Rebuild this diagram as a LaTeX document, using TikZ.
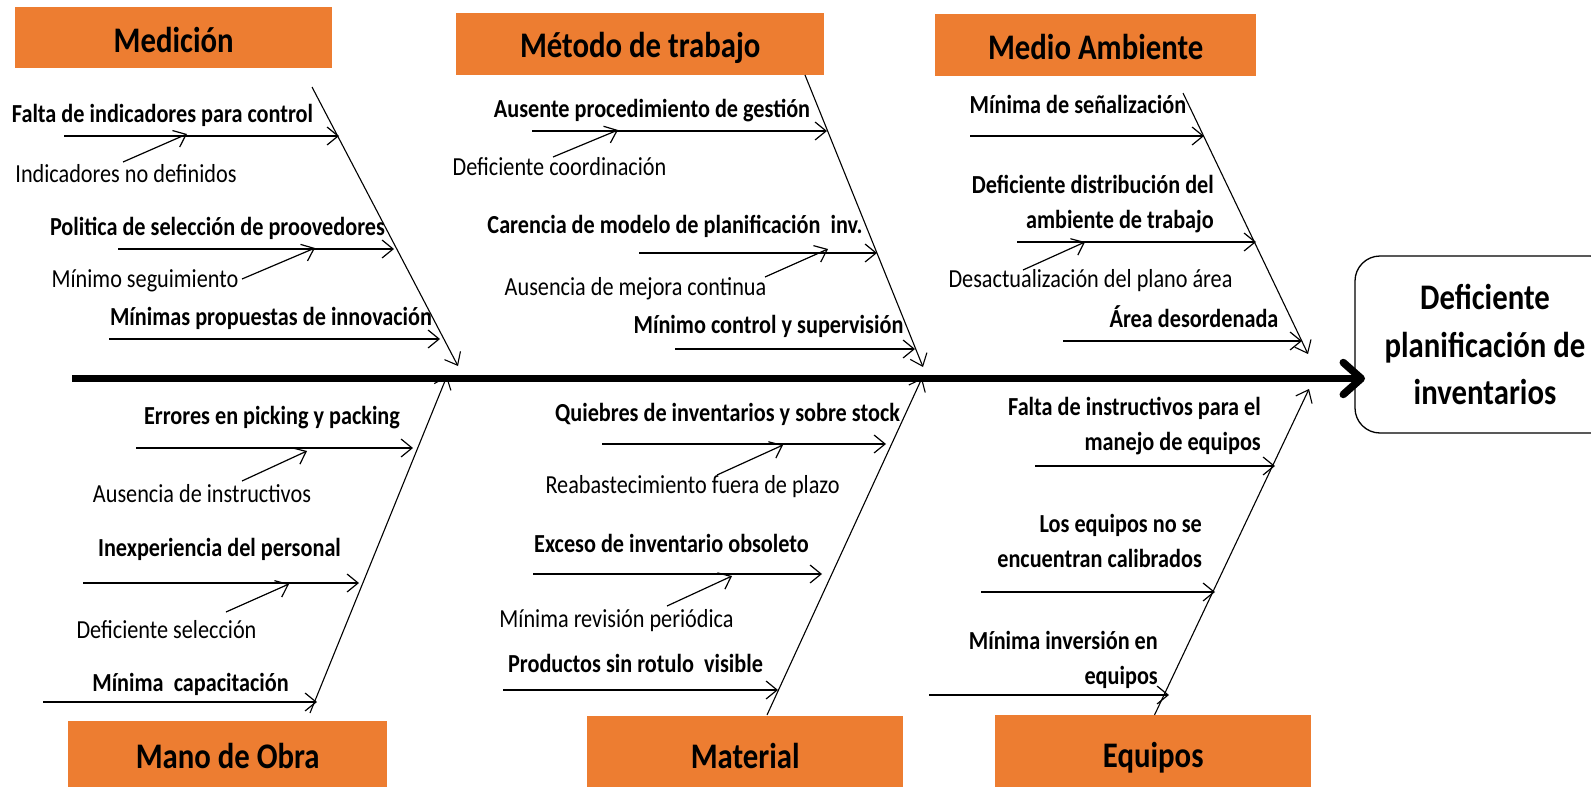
\documentclass[tikz,border=0pt]{standalone}
\usepackage{fontspec}
\setmainfont{Carlito}[FakeStretch=0.855]
\usetikzlibrary{arrows.meta,calc}
\definecolor{catorange}{HTML}{ED7D31}
\begin{document}
\begin{tikzpicture}[x=1pt,y=-1pt,
  catbox/.style={fill=catorange, draw=none, inner sep=0pt, anchor=north west},
  cattext/.style={font=\fontsize{36}{40}\selectfont\bfseries, anchor=base, inner sep=0pt},
  cause/.style={font=\fontsize{26}{34.5}\selectfont\bfseries, anchor=base, inner sep=0pt},
  causer/.style={font=\fontsize{26}{34.5}\selectfont\bfseries, anchor=base east, inner sep=0pt, align=right},
  subc/.style={font=\fontsize{26}{34.5}\selectfont, anchor=base, inner sep=0pt},
  bone/.style={line width=1.1pt, -{Straight Barb[length=11pt,width=18pt]}},
  rib/.style={line width=1.2pt, -{Straight Barb[length=11pt,width=18pt]}},
  spine/.style={line width=7.5pt, -{Straight Barb[length=18pt,width=32pt,round]}},
  resbox/.style={draw, line width=1.3pt, rounded corners=25pt, align=center,
    minimum width=260pt, minimum height=177pt, inner sep=0pt,
    font=\fontsize{36}{47.5}\selectfont\bfseries},
]
\useasboundingbox (0,0) rectangle (1591,787);

% result
\node[resbox] (res) at (1485,344.5) {Deficiente\\planificación de\\inventarios};

% spine
\coordinate (sp0) at (72,378.5);
\coordinate (sp1) at (1365,378.5);
\draw[spine] (sp0) -- (sp1);

% category boxes
\node[catbox, minimum width=317pt, minimum height=61pt] (bMed) at (15,7) {};
\node[cattext] (tMed) at ($(bMed.north)+(0,45)$) {Medición};
\node[catbox, minimum width=368pt, minimum height=62pt] (bMet) at (456,13) {};
\node[cattext] (tMet) at ($(bMet.north)+(0,44)$) {Método de trabajo};
\node[catbox, minimum width=321pt, minimum height=62pt] (bAmb) at (935,14) {};
\node[cattext] (tAmb) at ($(bAmb.north)+(0,45)$) {Medio Ambiente};
\node[catbox, minimum width=319pt, minimum height=66pt] (bMan) at (68,721) {};
\node[cattext] (tMan) at ($(bMan.north)+(0,47)$) {Mano de Obra};
\node[catbox, minimum width=316pt, minimum height=71pt] (bMat) at (587,716) {};
\node[cattext] (tMat) at ($(bMat.north)+(0,52)$) {Material};
\node[catbox, minimum width=316pt, minimum height=72pt] (bEqu) at (995,715) {};
\node[cattext] (tEqu) at ($(bEqu.north)+(0,52)$) {Equipos};

% bones
\coordinate (d1a) at (312,87);    \coordinate (d1b) at (458,366);
\coordinate (d2a) at (805,75);    \coordinate (d2b) at (923,367);
\coordinate (d3a) at (1183,93);   \coordinate (d3b) at (1308,354);
\coordinate (d4a) at (310,713);   \coordinate (d4b) at (447,376);
\coordinate (d5a) at (767,715);   \coordinate (d5b) at (922,378);
\coordinate (d6a) at (1154.5,715);\coordinate (d6b) at (1309,389);
\foreach \i in {1,...,6} { \draw[bone] (d\i a) -- (d\i b); }

% ---- Medicion
\node[cause] (c1) at (162.5,122) {Falta de indicadores para control};
\node[subc]  (s1) at (126,182) {Indicadores no definidos};
\node[cause] (c2) at (217.5,235) {Politica de selección de proovedores};
\node[subc]  (s2) at (145,287) {Mínimo seguimiento};
\node[cause] (c3) at (271,325) {Mínimas propuestas de innovación};
\coordinate (r1a) at (64,136);  \coordinate (r1b) at (339,136);
\coordinate (r2a) at (118,249); \coordinate (r2b) at (394,249);
\coordinate (r3a) at (109,339); \coordinate (r3b) at (440,339);
\coordinate (u1a) at (123,162); \coordinate (u1b) at (187,134);
\coordinate (u2a) at (242,279); \coordinate (u2b) at (315,248);

% ---- Metodo
\node[cause] (c4) at (652,117) {Ausente procedimiento de gestión};
\node[subc]  (s3) at (559.5,175) {Deficiente coordinación};
\node[cause] (c5) at (675,233) {Carencia de modelo de planificación\ \ inv.};
\node[subc]  (s4) at (635.5,295) {Ausencia de mejora continua};
\node[cause] (c6) at (768.5,333) {Mínimo control y supervisión};
\coordinate (r4a) at (532,131); \coordinate (r4b) at (827,131);
\coordinate (r5a) at (639,253); \coordinate (r5b) at (877,253);
\coordinate (r6a) at (675,349); \coordinate (r6b) at (915,349);
\coordinate (u3a) at (553,157); \coordinate (u3b) at (618,130);
\coordinate (u4a) at (765,277); \coordinate (u4b) at (828,249);

% ---- Medio Ambiente
\node[cause] (c7) at (1078,113) {Mínima de señalización};
\node[causer] (c8) at (1214,228) {Deficiente distribución del\\ambiente de trabajo};
\node[subc]  (s5) at (1090.5,287) {Desactualización del plano área};
\node[cause] (c9) at (1194,327) {Área desordenada};
\coordinate (r7a) at (970,136);  \coordinate (r7b) at (1204,136);
\coordinate (r8a) at (1017,242); \coordinate (r8b) at (1256,242);
\coordinate (r9a) at (1063,341); \coordinate (r9b) at (1302,341);
\coordinate (u5a) at (1023,270); \coordinate (u5b) at (1085,242);

% ---- Mano de Obra
\node[cause] (c10) at (272,424) {Errores en picking y packing};
\node[subc]  (s6) at (202,502) {Ausencia de instructivos};
\node[cause] (c11) at (219.5,556) {Inexperiencia del personal};
\node[subc]  (s7) at (166.5,638) {Deficiente selección};
\node[cause] (c12) at (190.5,691) {Mínima\ \ capacitación};
\coordinate (r10a) at (136,448); \coordinate (r10b) at (413,448);
\coordinate (r11a) at (83,583);  \coordinate (r11b) at (359,583);
\coordinate (r12a) at (43,702);  \coordinate (r12b) at (317,702);
\coordinate (u6a) at (242,481);  \coordinate (u6b) at (307,451);
\coordinate (u7a) at (226,612);  \coordinate (u7b) at (289,584);

% ---- Material
\node[cause] (c13) at (727.5,421) {Quiebres de inventarios y sobre stock};
\node[subc]  (s8) at (692.5,493) {Reabastecimiento fuera de plazo};
\node[cause] (c14) at (671.5,552) {Exceso de inventario obsoleto};
\node[subc]  (s9) at (616.5,627) {Mínima revisión periódica};
\node[cause] (c15) at (635.5,672) {Productos sin rotulo\ \ visible};
\coordinate (r13a) at (602,444); \coordinate (r13b) at (886,444);
\coordinate (r14a) at (533,574); \coordinate (r14b) at (822,574);
\coordinate (r15a) at (503,690); \coordinate (r15b) at (778,690);
\coordinate (u8a) at (717,475);  \coordinate (u8b) at (783,445);
\coordinate (u9a) at (667,606);  \coordinate (u9b) at (732,576);

% ---- Equipos
\node[causer] (c16) at (1261,450) {Falta de instructivos para el\\manejo de equipos};
\node[causer] (c17) at (1202,567) {Los equipos no se\\encuentran calibrados};
\node[causer] (c18) at (1158,684) {Mínima inversión en\\equipos};
\coordinate (r16a) at (1035,466); \coordinate (r16b) at (1275,466);
\coordinate (r17a) at (981,592);  \coordinate (r17b) at (1215,592);
\coordinate (r18a) at (929,695);  \coordinate (r18b) at (1169,695);

\foreach \i in {1,...,18} { \draw[rib] (r\i a) -- (r\i b); }
\foreach \i in {1,...,9} { \draw[rib] (u\i a) -- (u\i b); }
\end{tikzpicture}
\end{document}
